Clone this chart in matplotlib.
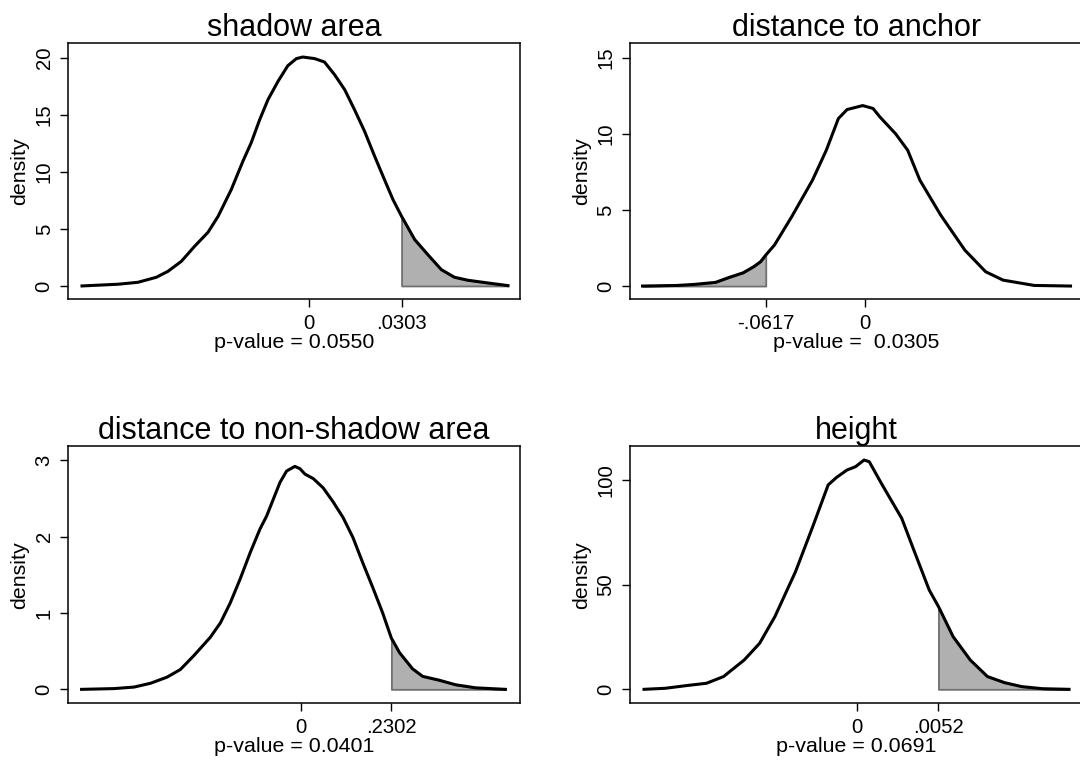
import numpy as np
import matplotlib
matplotlib.use("Agg")
import matplotlib.pyplot as plt

plt.rcParams['font.family'] = ['Liberation Sans', 'DejaVu Sans']

# panel titles, observed statistics and p-values
titles = ["shadow area", "distance to anchor", "distance to non-shadow area", "height"]
observed = [0.0303, -0.0617, 0.2302, 0.0052]
obs_labels = [".0303", "-.0617", ".2302", ".0052"]
pvalue_labels = ["p-value = 0.0550", "p-value =  0.0305", "p-value = 0.0401", "p-value = 0.0691"]
tail_side = ["right", "left", "right", "right"]

# density curves
shadow_x = [-0.0742, -0.0624, -0.0559, -0.0499, -0.0461, -0.0417, -0.0374, -0.0330, -0.0297,
            -0.0254, -0.0216, -0.0189, -0.0161, -0.0134, -0.0101, -0.0069, -0.0041, -0.0020,
            0.0019, 0.0051, 0.0084, 0.0117, 0.0149, 0.0182, 0.0215, 0.0247, 0.0275, 0.0303,
            0.0346, 0.0389, 0.0433, 0.0476, 0.0520, 0.0585, 0.0651]
shadow_y = [0, 0.15, 0.32, 0.76, 1.28, 2.16, 3.47, 4.70, 6.10, 8.44, 10.92, 12.53, 14.57,
            16.32, 17.93, 19.30, 19.92, 20.06, 19.92, 19.62, 18.51, 17.20, 15.45, 13.55,
            11.36, 9.32, 7.56, 6.10, 4.06, 2.74, 1.43, 0.76, 0.50, 0.26, 0.03]

anchor_x = [-0.1382, -0.1165, -0.1058, -0.0929, -0.0843, -0.0757, -0.0692, -0.0649, -0.0617,
            -0.0563, -0.0456, -0.0327, -0.0241, -0.0166, -0.0112, -0.0015, 0.0049, 0.0092,
            0.0189, 0.0264, 0.0340, 0.0469, 0.0619, 0.0748, 0.0856, 0.1049, 0.1275]
anchor_y = [0, 0.04, 0.11, 0.24, 0.57, 0.87, 1.27, 1.6, 2.03, 2.69, 4.55, 6.95, 8.92, 11.0,
            11.59, 11.85, 11.66, 11.1, 10.0, 8.92, 6.95, 4.66, 2.36, 0.94, 0.39, 0.04, 0]

nonshadow_x = [-0.560, -0.477, -0.426, -0.384, -0.342, -0.308, -0.274, -0.232, -0.206, -0.181,
               -0.156, -0.130, -0.105, -0.088, -0.071, -0.054, -0.037, -0.016, -0.003, 0.0095,
               0.031, 0.056, 0.081, 0.107, 0.132, 0.157, 0.183, 0.208, 0.2302, 0.251, 0.284,
               0.310, 0.352, 0.394, 0.445, 0.521]
nonshadow_y = [0, 0.01, 0.03, 0.08, 0.16, 0.26, 0.44, 0.68, 0.87, 1.13, 1.44, 1.79, 2.10,
               2.27, 2.49, 2.71, 2.86, 2.92, 2.89, 2.82, 2.76, 2.64, 2.46, 2.25, 1.99, 1.66,
               1.33, 1.00, 0.67, 0.48, 0.27, 0.17, 0.12, 0.06, 0.02, 0]

height_x = [-0.01365, -0.01229, -0.01097, -0.00965, -0.00856, -0.00724, -0.00625, -0.00527,
            -0.00395, -0.00285, -0.00186, -0.00132, -0.00066, -0.00011, 0.00044, 0.00077,
            0.00154, 0.00285, 0.00362, 0.00461, 0.0052, 0.00614, 0.00724, 0.00834, 0.00943,
            0.01053, 0.01185, 0.01356]
height_y = [0, 0.5, 1.75, 2.9, 6.1, 14.0, 22.0, 34.8, 56.3, 77.8, 97.8, 101.4, 104.9, 106.5,
            109.7, 108.9, 98.6, 81.8, 66.7, 47.5, 39.6, 25.2, 14.0, 6.1, 3.2, 1.3, 0.3, 0]

curves_x = [shadow_x, anchor_x, nonshadow_x, height_x]
curves_y = [shadow_y, anchor_y, nonshadow_y, height_y]
yticks = [[0, 5, 10, 15, 20], [0, 5, 10, 15], [0, 1, 2, 3], [0, 50, 100]]

# layout (figure fractions) and axis ranges
positions = [[0.0632, 0.6108, 0.4182, 0.3333],
             [0.5833, 0.6108, 0.4194, 0.3333],
             [0.0632, 0.0854, 0.4182, 0.3346],
             [0.5833, 0.0854, 0.4194, 0.3346]]
xlims = [(-0.0787, 0.069), (-0.146, 0.1352), (-0.594, 0.558), (-0.01455, 0.01445)]
ylims = [(-1.17, 21.29), (-0.87, 15.96), (-0.183, 3.187), (-6.7, 116.4)]

fig = plt.figure(figsize=(10.8, 7.69), dpi=100)

for i in range(4):
    ax = fig.add_axes(positions[i])
    x = np.array(curves_x[i])
    y = np.array(curves_y[i])

    # shaded tail beyond the observed statistic
    if tail_side[i] == "right":
        mask = x >= observed[i]
    else:
        mask = x <= observed[i]
    ax.fill_between(x[mask], 0, y[mask], facecolor="#b0b0b0", edgecolor="#707070",
                    linewidth=1.3, zorder=1)
    ax.plot(x, y, color="black", linewidth=2.2, solid_joinstyle="round", zorder=2)

    ax.set_xlim(xlims[i])
    ax.set_ylim(ylims[i])

    ax.set_xticks(sorted([0, observed[i]]))
    if observed[i] > 0:
        ax.set_xticklabels(["0", obs_labels[i]])
    else:
        ax.set_xticklabels([obs_labels[i], "0"])
    ax.set_yticks(yticks[i])
    ax.set_yticklabels([str(t) for t in yticks[i]], rotation=90, va="center")

    ax.tick_params(direction="out", length=5.5, width=1.0, labelsize=14.6, pad=5)
    for sp in ax.spines.values():
        sp.set_linewidth(1.1)

    ax.set_title(titles[i], fontsize=22, pad=3)
    ax.set_xlabel(pvalue_labels[i], fontsize=15.4, labelpad=0)
    ax.set_ylabel("density", fontsize=15.4, labelpad=4)

fig.savefig("out.png", dpi=100)
